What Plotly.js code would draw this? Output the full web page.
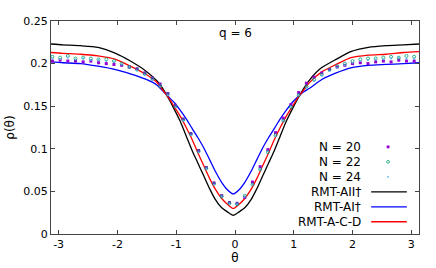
<!DOCTYPE html>
<html>
<head>
<meta charset="utf-8">
<script src="https://cdn.plot.ly/plotly-3.0.1.min.js"></script>
<style>
  html, body { margin: 0; padding: 0; background: #fff; }
  #root { width: 436px; height: 268px; }
</style>
</head>
<body>
<div id="root"></div>
<script>
// theta grid of the RMT curves
var thetaLine = [-3.13, -2.93, -2.63, -2.33, -2.03, -1.78, -1.53, -1.33, -1.23, -1.13, -1.03,
  -0.93, -0.83, -0.73, -0.63, -0.53, -0.43, -0.33, -0.23, -0.13, -0.03,
  0.07, 0.17, 0.27, 0.37, 0.47, 0.57, 0.67, 0.77, 0.87, 0.97,
  1.07, 1.17, 1.27, 1.47, 1.72, 1.97, 2.27, 2.57, 2.87, 3.13];

var rmtAII = [0.223, 0.222, 0.221, 0.219, 0.212, 0.203, 0.192, 0.180, 0.171, 0.159, 0.146,
  0.132, 0.115, 0.098, 0.083, 0.068, 0.053, 0.040, 0.031, 0.026, 0.022,
  0.026, 0.031, 0.040, 0.053, 0.068, 0.083, 0.098, 0.115, 0.132, 0.146,
  0.159, 0.171, 0.181, 0.195, 0.205, 0.214, 0.219, 0.221, 0.222, 0.223];

var rmtAI = [0.202, 0.201, 0.200, 0.197, 0.193, 0.188, 0.182, 0.175, 0.168, 0.161, 0.154,
  0.145, 0.135, 0.124, 0.113, 0.101, 0.087, 0.073, 0.061, 0.052, 0.047,
  0.052, 0.061, 0.073, 0.087, 0.101, 0.113, 0.124, 0.135, 0.145, 0.154,
  0.161, 0.167, 0.171, 0.181, 0.189, 0.195, 0.198, 0.199, 0.200, 0.201];

var rmtACD = [0.213, 0.212, 0.211, 0.209, 0.205, 0.197, 0.188, 0.178, 0.169, 0.160, 0.149,
  0.138, 0.125, 0.111, 0.095, 0.080, 0.065, 0.052, 0.042, 0.035, 0.030,
  0.035, 0.042, 0.052, 0.065, 0.080, 0.095, 0.111, 0.125, 0.138, 0.149,
  0.160, 0.169, 0.178, 0.190, 0.199, 0.207, 0.210, 0.211, 0.213, 0.214];

// histogram bins of the numerics
var thetaBins = [-3.106, -2.975, -2.844, -2.713, -2.583, -2.452, -2.321, -2.190, -2.059, -1.928,
  -1.797, -1.666, -1.535, -1.404, -1.274, -1.143, -1.012, -0.881, -0.750, -0.619,
  -0.488, -0.357, -0.226, -0.095, 0.035, 0.166, 0.297, 0.428, 0.559, 0.690,
  0.821, 0.952, 1.083, 1.214, 1.345, 1.476, 1.607, 1.738, 1.869, 2.000,
  2.131, 2.262, 2.393, 2.524, 2.655, 2.786, 2.917, 3.048];

var rhoN20 = [0.203, 0.204, 0.203, 0.203, 0.202, 0.203, 0.201, 0.200, 0.199, 0.198,
  0.196, 0.194, 0.189, 0.183, 0.176, 0.165, 0.151, 0.135, 0.118, 0.098,
  0.078, 0.060, 0.045, 0.037, 0.036, 0.043, 0.061, 0.079, 0.099, 0.119,
  0.136, 0.152, 0.166, 0.177, 0.184, 0.189, 0.193, 0.196, 0.198, 0.200,
  0.201, 0.200, 0.202, 0.203, 0.202, 0.204, 0.203, 0.203];

var rhoN22 = [0.208, 0.207, 0.209, 0.206, 0.207, 0.206, 0.205, 0.205, 0.203, 0.200,
  0.196, 0.193, 0.188, 0.182, 0.174, 0.164, 0.150, 0.134, 0.117, 0.097,
  0.077, 0.059, 0.044, 0.036, 0.035, 0.045, 0.058, 0.076, 0.096, 0.116,
  0.133, 0.149, 0.163, 0.173, 0.181, 0.187, 0.193, 0.197, 0.200, 0.203,
  0.205, 0.206, 0.206, 0.207, 0.208, 0.207, 0.209, 0.208];

var rhoN24 = [0.206, 0.205, 0.207, 0.205, 0.206, 0.204, 0.204, 0.203, 0.202, 0.199,
  0.196, 0.192, 0.187, 0.181, 0.173, 0.163, 0.149, 0.133, 0.116, 0.096,
  0.077, 0.058, 0.044, 0.036, 0.035, 0.044, 0.058, 0.076, 0.097, 0.115,
  0.133, 0.149, 0.163, 0.172, 0.180, 0.186, 0.191, 0.195, 0.198, 0.201,
  0.203, 0.204, 0.205, 0.205, 0.206, 0.207, 0.206, 0.206];

var xTicks = [-3, -2, -1, 0, 1, 2, 3];
var xTickText = ['-3', '-2', '-1', '0', '1', '2', '3'];
var yTicks = [0, 0.05, 0.1, 0.15, 0.2, 0.25];
var yTickText = ['0', '0.05', '0.1', '0.15', '0.2', '0.25'];

var legendNames = ['N = 20', 'N = 22', 'N = 24', 'RMT-AII†', 'RMT-AI†', 'RMT-A-C-D'];
var legendKinds = ['square', 'ring', 'dot', 'line', 'line', 'line'];
var colors = ['#9400d3', '#009e73', '#56b4e9', '#000000', '#0000ff', '#ff0000'];

var font = 'DejaVu Sans, sans-serif';

function points(y, i, symbol, size, lw) {
    return {
        x: thetaBins, y: y, type: 'scatter', mode: 'markers', name: legendNames[i],
        marker: { symbol: symbol, size: size, color: colors[i], line: { width: lw, color: colors[i] } },
        showlegend: false
    };
}

function curve(y, i) {
    return {
        x: thetaLine, y: y, type: 'scatter', mode: 'lines', name: legendNames[i],
        line: { color: colors[i], width: 1.3, shape: 'spline', smoothing: 0.6 },
        showlegend: false
    };
}

var traces = [
    curve(rmtAII, 3),
    curve(rmtAI, 4),
    curve(rmtACD, 5),
    points(rhoN20, 0, 'square', 3, 0),
    points(rhoN22, 1, 'circle-open', 3, 0.8),
    points(rhoN24, 2, 'circle', 1.8, 0)
];

// gnuplot style key: text right aligned, sample on the right
var annotations = [];
var shapes = [];
var keyTop = 0.409, keyStep = 0.0703;
var textX = 0.847, lineX0 = 0.870, lineX1 = 0.967, markX = 0.916;
for (let i = 0; i < legendNames.length; i++) {
    var ky = keyTop - i * keyStep;
    annotations.push({
        xref: 'paper', yref: 'paper', x: textX, y: ky, xanchor: 'right', yanchor: 'middle',
        text: legendNames[i], showarrow: false, font: { family: font, size: 12, color: '#000' }
    });
    if (legendKinds[i] === 'line') {
        shapes.push({ type: 'line', xref: 'paper', yref: 'paper', x0: lineX0, x1: lineX1, y0: ky, y1: ky,
            line: { color: colors[i], width: 1.3 } });
    } else {
        var r = legendKinds[i] === 'dot' ? 0.9 : 1.4;
        shapes.push({
            type: legendKinds[i] === 'square' ? 'rect' : 'circle',
            xref: 'paper', yref: 'paper', xsizemode: 'pixel', ysizemode: 'pixel',
            xanchor: markX, yanchor: ky, x0: -r, x1: r, y0: -r, y1: r,
            fillcolor: legendKinds[i] === 'ring' ? 'rgba(0,0,0,0)' : colors[i],
            line: { color: colors[i], width: legendKinds[i] === 'ring' ? 0.8 : 0 }
        });
    }
}

annotations.push({
    xref: 'paper', yref: 'paper', x: 0.5, y: 0.946, xanchor: 'center', yanchor: 'middle',
    text: 'q = 6', showarrow: false, font: { family: font, size: 12, color: '#000' }
});

var axisCommon = {
    showline: true, linecolor: '#444', linewidth: 1, mirror: 'ticks',
    ticks: 'inside', ticklen: 4, tickwidth: 1, tickcolor: '#444',
    showgrid: false, zeroline: false,
    tickfont: { family: font, size: 11, color: '#000' }
};

var layout = {
    width: 436, height: 268,
    margin: { l: 51, r: 17, t: 21, b: 34 },
    paper_bgcolor: '#fff', plot_bgcolor: '#fff',
    showlegend: false,
    xaxis: Object.assign({}, axisCommon, {
        range: [-3.13, 3.13], tickvals: xTicks, ticktext: xTickText,
        title: { text: 'θ', font: { family: font, size: 12, color: '#000' }, standoff: 2 }
    }),
    yaxis: Object.assign({}, axisCommon, {
        range: [0, 0.25], tickvals: yTicks, ticktext: yTickText,
        title: { text: 'ρ(θ)', font: { family: font, size: 12, color: '#000' }, standoff: 6 }
    }),
    annotations: annotations,
    shapes: shapes
};

Plotly.newPlot('root', traces, layout, { displayModeBar: false, staticPlot: true });
</script>
</body>
</html>
